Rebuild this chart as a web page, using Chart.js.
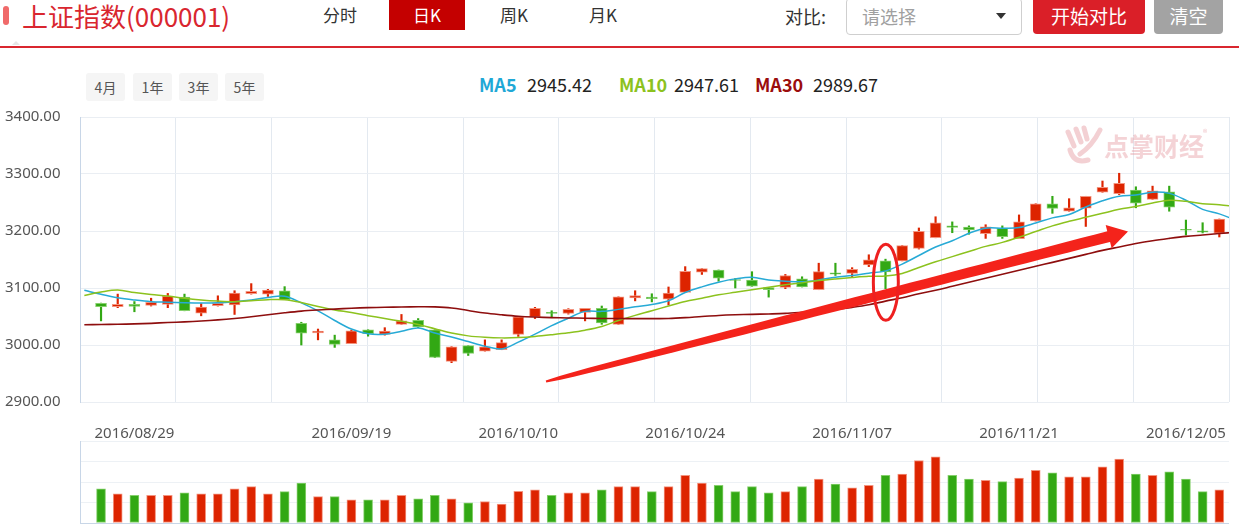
<!DOCTYPE html>
<html><head><meta charset="utf-8">
<script src="https://cdn.jsdelivr.net/npm/chart.js@4.4.0/dist/chart.umd.min.js"></script>
<style>
html,body{margin:0;padding:0;background:#fff;}
body{width:1239px;height:528px;position:relative;overflow:hidden;font-family:"Noto Sans CJK SC","Noto Sans",sans-serif;}
.a{position:absolute;white-space:nowrap;}
.tab{top:0;height:30px;line-height:30px;font-size:17px;color:#333;}
.rng{top:73px;width:39px;height:28px;line-height:28px;background:#f5f5f5;border-radius:3px;text-align:center;font-size:14px;color:#555;}
.mal{top:70px;line-height:28px;font-size:18px;font-weight:bold;}
.mav{top:70px;line-height:28px;font-size:18px;color:#222;}
canvas{position:absolute;left:0;}
</style></head><body>
<div class="a" style="left:3px;top:6px;width:6px;height:19px;background:#f06a6a;border-radius:3px;"></div>
<div class="a" style="left:22px;top:0;height:32px;line-height:32px;font-size:26px;color:#d9262f;">上证指数(000001)</div>
<div class="a tab" style="left:323px;">分时</div>
<div class="a tab" style="left:389px;width:76px;background:#c40000;color:#fff;text-align:center;">日K</div>
<div class="a tab" style="left:500px;">周K</div>
<div class="a tab" style="left:589px;">月K</div>
<div class="a" style="left:785px;top:0;height:32px;line-height:32px;font-size:18px;color:#333;">对比:</div>
<div class="a" style="left:846px;top:-2px;width:174px;height:35px;border:1px solid #cfcfcf;border-radius:4px;"></div>
<div class="a" style="left:862px;top:0;height:32px;line-height:32px;font-size:18px;color:#a0a0a0;">请选择</div>
<div class="a" style="left:996px;top:13px;width:0;height:0;border-left:5px solid transparent;border-right:5px solid transparent;border-top:6px solid #333;"></div>
<div class="a" style="left:1033px;top:-4px;width:112px;height:38px;background:#da1f28;border-radius:4px;color:#fff;font-size:19px;line-height:40px;text-align:center;">开始对比</div>
<div class="a" style="left:1154px;top:-4px;width:69px;height:38px;background:#a3a3a3;border-radius:4px;color:#fff;font-size:19px;line-height:40px;text-align:center;">清空</div>
<div class="a" style="left:0;top:46px;width:1239px;height:2px;background:#d9262f;"></div>
<div class="a" style="left:12px;top:41px;width:0;height:0;border-left:4px solid transparent;border-right:4px solid transparent;border-bottom:4px solid #e6e6e6;"></div>

<div class="a rng" style="left:86px;">4月</div>
<div class="a rng" style="left:133px;">1年</div>
<div class="a rng" style="left:179px;">3年</div>
<div class="a rng" style="left:225px;">5年</div>

<div class="a mal" style="left:479px;color:#1fa8d6;">MA5</div>
<div class="a mav" style="left:527px;">2945.42</div>
<div class="a mal" style="left:619px;color:#8cc21e;">MA10</div>
<div class="a mav" style="left:674px;">2947.61</div>
<div class="a mal" style="left:755px;color:#9b0d0d;">MA30</div>
<div class="a mav" style="left:813px;">2989.67</div>

<canvas id="k" width="1239" height="315" style="top:100px;"></canvas>
<canvas id="v" width="1239" height="108" style="top:420px;"></canvas>

<svg class="a" style="left:1062px;top:124px;" width="44" height="44" viewBox="0 0 44 44">
<g fill="none" stroke="rgba(228,150,158,0.45)" stroke-width="5" stroke-linecap="round">
<path d="M6 8 L12 22"/><path d="M14 5 L19 18"/><path d="M22 4 L25 15"/><path d="M38 6 Q30 22 18 30"/>
<path d="M8 26 Q12 40 26 36"/></g></svg>
<div class="a" style="left:1104px;top:130px;font-size:25px;font-weight:bold;color:rgba(228,150,158,0.42);line-height:30px;">点掌财经</div>
<div class="a" style="left:1203px;top:126px;font-size:9px;color:rgba(228,150,158,0.6);">®</div>

<script>
// ---------- data ----------
const dates = ['2016/08/25','2016/08/26','2016/08/29','2016/08/30','2016/08/31','2016/09/01','2016/09/02',
'2016/09/05','2016/09/06','2016/09/07','2016/09/08','2016/09/09','2016/09/12','2016/09/13','2016/09/14',
'2016/09/19','2016/09/20','2016/09/21','2016/09/22','2016/09/23','2016/09/26','2016/09/27','2016/09/28','2016/09/29','2016/09/30',
'2016/10/10','2016/10/11','2016/10/12','2016/10/13','2016/10/14','2016/10/17','2016/10/18','2016/10/19','2016/10/20','2016/10/21',
'2016/10/24','2016/10/25','2016/10/26','2016/10/27','2016/10/28','2016/10/31','2016/11/01','2016/11/02','2016/11/03','2016/11/04',
'2016/11/07','2016/11/08','2016/11/09','2016/11/10','2016/11/11','2016/11/14','2016/11/15','2016/11/16','2016/11/17','2016/11/18',
'2016/11/21','2016/11/22','2016/11/23','2016/11/24','2016/11/25','2016/11/28','2016/11/29','2016/11/30','2016/12/01','2016/12/02',
'2016/12/05','2016/12/06','2016/12/07'];
const tickDates = ['2016/08/29','2016/09/19','2016/10/10','2016/10/24','2016/11/07','2016/11/21','2016/12/05'];
const yTicks = [2900,3000,3100,3200,3300,3400];

const opens = [3073.2,3067.2,3071.4,3069.6,3071.4,3083.9,3055.9,3069.0,3070.2,3089.9,3089.3,3095.2,3038.1,3021.4,3009.0,
3002.4,3026.8,3018.5,3036.3,3043.4,3026.8,2971.4,2998.8,2989.3,2991.7,3018.5,3049.4,3057.2,3055.3,3057.2,
3064.3,3036.3,3082.7,3083.9,3080.3,3092.3,3127.9,3131.6,3114.9,3113.7,3100.6,3101.2,3116.1,3097.0,3126.8,
3125.6,3140.5,3147.6,3147.6,3169.6,3188.1,3209.0,3206.7,3195.4,3205.0,3186.5,3217.5,3247.8,3234.7,3240.0,
3268.0,3265.6,3271.6,3255.5,3268.6,3203.0,3200.2,3196.0];
const closes = [3067.2,3071.4,3067.8,3075.0,3085.7,3060.1,3066.6,3073.2,3091.1,3094.0,3096.4,3079.7,3020.8,3024.4,3001.2,
3025.0,3019.7,3024.4,3042.3,3031.6,2978.0,2997.0,2985.1,2997.0,3004.2,3049.4,3064.3,3055.3,3062.5,3064.3,
3038.7,3084.5,3086.9,3081.5,3091.1,3129.2,3133.9,3117.3,3113.1,3103.0,3097.0,3122.0,3101.8,3128.6,3124.4,
3132.8,3149.4,3128.0,3174.4,3199.4,3214.3,3206.5,3202.0,3207.3,3190.0,3216.3,3247.8,3239.5,3240.7,3260.9,
3276.4,3283.5,3249.0,3270.4,3241.8,3201.4,3197.8,3221.0];
const highs = [3073.5,3089.3,3076.2,3082.1,3090.5,3089.3,3072.6,3086.3,3095.2,3107.7,3097.6,3102.4,3039.9,3028.0,3017.3,
3026.2,3026.8,3030.4,3053.6,3046.4,3026.8,2997.0,2998.8,3009.0,3009.0,3049.4,3066.1,3060.1,3063.7,3064.3,
3068.4,3084.5,3095.2,3089.9,3101.8,3137.5,3133.9,3131.6,3116.7,3128.6,3100.6,3123.8,3119.7,3143.5,3143.5,
3135.7,3158.3,3150.6,3174.4,3205.3,3225.0,3216.0,3209.0,3211.0,3209.0,3228.2,3247.8,3260.9,3256.7,3260.9,
3287.7,3301.3,3277.6,3278.7,3278.7,3219.2,3214.5,3221.0];
const lows = [3042.3,3065.5,3058.3,3068.4,3065.5,3060.0,3051.2,3068.4,3053.6,3089.3,3085.1,3079.7,3000.0,3009.0,2995.8,
3002.4,3015.5,3017.3,3036.3,3030.4,2978.0,2969.0,2981.6,2989.3,2991.7,3015.0,3046.4,3048.2,3054.2,3042.3,
3036.3,3036.3,3077.4,3075.6,3070.2,3092.3,3123.8,3111.9,3100.0,3103.0,3084.0,3098.8,3101.8,3097.0,3122.0,
3119.7,3137.5,3098.8,3147.6,3168.4,3188.1,3197.0,3194.3,3187.0,3187.0,3186.5,3217.5,3231.0,3234.7,3208.0,
3268.0,3263.9,3240.7,3255.5,3234.7,3193.0,3196.6,3189.5];
const volumes = [1661,1419,1355,1355,1355,1468,1419,1419,1661,1774,1419,1532,1952,1290,1290,
1129,1129,1129,1355,1177,1355,1177,984,1048,919,1548,1613,1355,1468,1468,
1613,1774,1774,1532,1774,2323,1952,1839,1532,1774,1468,1532,1774,2145,1903,
1710,1839,2323,2387,3048,3226,2323,2145,2081,2016,2194,2565,2452,2258,2258,
2742,3113,2387,2323,2500,2145,1532,1613];
// moving averages, one point per trading day from the day before the first candle (x=-1) to the day after the last (x=68)
const ma5 = [3096,3089,3083,3079,3076,3075,3074,3073.5,3074,3076,3079,3083.5,3085.7,3074,3060,3043,3028,3019.7,3019,3024,
3030,3021,3014,3006,2998,2993,3005,3019,3034,3047,3059,3059,3062.5,3067,3071,3077.5,3092,3102,3110,3116,
3119,3114,3112,3111,3114,3119,3122,3126,3130,3142,3157,3172,3183,3196,3205,3205,3206,3214,3223,3229,
3242,3253,3261,3263,3268,3266,3254,3238,3230,3219];
const ma10 = [3087,3093,3096.5,3092,3088.5,3086,3082,3079,3077,3076,3077.5,3079.5,3079.5,3074.5,3067.5,3061.5,3057,3051.5,3046.5,3041.5,
3036,3028.5,3021,3016,3013.5,3012.5,3013,3015,3018,3021.5,3026,3032.5,3043,3052,3060,3068.5,3076.5,3082,3088,3092.5,
3097,3101.5,3105.5,3109,3113,3116,3118.5,3120.5,3121,3125.5,3136,3146,3155,3164,3173,3180,3189,3199,3209,3217,
3224,3231,3238,3243,3249,3254,3252,3248,3246,3243];
const ma30 = [3035.5,3036,3036.3,3037,3038,3039.5,3040.5,3042,3044,3046.5,3049.5,3053,3056.5,3059.5,3061.5,3063,3064.5,3065.5,3066.2,3066.7,
3067,3066.8,3065,3060.5,3056,3053,3050.5,3049,3048,3047.5,3047,3046.6,3046.4,3046.3,3046.3,3046.6,3048,3050,3051.8,3053,
3053.8,3054.5,3055.5,3057.5,3059.8,3062.5,3066,3070.5,3077,3083,3090,3096,3103,3110,3117,3124,3131,3138,3145,3152,
3159,3166,3172,3178,3183,3187,3190.5,3193,3195.5,3198];

// ---------- styles ----------
const RED='#dd2400', GREEN='#32a814', RED_EDGE='#f3947f', GREEN_EDGE='#86d06c';
const C5='#27aad6', C10='#8cc21e', C30='#8e0e0e';
const XMIN=-1.26, XMAX=67.58;
const FONT='"Noto Sans", "Noto Sans CJK SC", sans-serif';
const up = closes.map((c,i)=>c>=opens[i]);
const fill = up.map(u=>u?RED:GREEN);
const edge = up.map(u=>u?RED_EDGE:GREEN_EDGE);

// annotation placement in data units (arrow and ring drawn by the author on the chart)
const arrowFrom=[26.66,2936], arrowTo=[61.53,3199], ringAt=[47.02,3110];

const annot = {
  id:'annot',
  afterDatasetsDraw(chart){
    const {ctx, scales:{x,y}} = chart;
    const x0=x.getPixelForValue(arrowFrom[0]), y0=y.getPixelForValue(arrowFrom[1]);
    const x1=x.getPixelForValue(arrowTo[0]), y1=y.getPixelForValue(arrowTo[1]);
    const dx=x1-x0, dy=y1-y0, L=Math.hypot(dx,dy), ux=dx/L, uy=dy/L, nx=-uy, ny=ux;
    const HL=20, HW=12, bodyL=L-HL+2;
    ctx.save();
    ctx.fillStyle='#f4231b';
    ctx.beginPath();
    const N=40, left=[], right=[];
    for(let k=0;k<=N;k++){const t=k/N; const w=(2+9*Math.pow(t,0.4))/2; const px=x0+ux*bodyL*t, py=y0+uy*bodyL*t;
      left.push([px+nx*w,py+ny*w]); right.push([px-nx*w,py-ny*w]);}
    ctx.moveTo(left[0][0],left[0][1]);
    left.forEach(p=>ctx.lineTo(p[0],p[1]));
    right.reverse().forEach(p=>ctx.lineTo(p[0],p[1]));
    ctx.closePath(); ctx.fill();
    const bx=x1-ux*HL, by=y1-uy*HL;
    ctx.beginPath(); ctx.moveTo(bx+nx*HW,by+ny*HW); ctx.lineTo(x1,y1); ctx.lineTo(bx-nx*HW,by-ny*HW); ctx.closePath(); ctx.fill();
    const cx=x.getPixelForValue(ringAt[0]), cy=y.getPixelForValue(ringAt[1]);
    ctx.strokeStyle='#ee2020'; ctx.lineWidth=3;
    ctx.beginPath(); ctx.ellipse(cx,cy,12.5,38,0,0,Math.PI*2); ctx.stroke();
    ctx.restore();
  }
};

// move the plot area to the wanted place inside its canvas
function fitArea(chart, t){
  const a=chart.chartArea, p=chart.config.options.layout.padding;
  const dt=t.top-a.top, db=a.bottom-t.bottom, dr=a.right-t.right;
  if(Math.abs(dt)+Math.abs(db)+Math.abs(dr) < 0.5) return;
  p.top += dt; p.bottom += db; p.right += dr;
  chart.update();
}

const kChart = new Chart(document.getElementById('k'), {
  type:'bar',
  data:{datasets:[
    {data:opens.map((o,i)=>({x:i,y:[lows[i],highs[i]]})), backgroundColor:fill, barThickness:1.5, grouped:false, order:3},
    {data:opens.map((o,i)=>({x:i,y:[o,closes[i]]})), backgroundColor:fill, borderColor:edge, borderWidth:1, borderSkipped:false, barThickness:11, grouped:false, order:2},
    {type:'line', data:ma30.map((v,k)=>({x:k-1,y:v})), borderColor:C30, borderWidth:1.6, pointRadius:0, tension:0.35, order:1},
    {type:'line', data:ma10.map((v,k)=>({x:k-1,y:v})), borderColor:C10, borderWidth:1.5, pointRadius:0, tension:0.35, order:1},
    {type:'line', data:ma5.map((v,k)=>({x:k-1,y:v})), borderColor:C5, borderWidth:1.5, pointRadius:0, tension:0.35, order:1}
  ]},
  options:{
    responsive:false, animation:false, devicePixelRatio:1,
    layout:{padding:{top:17,right:10,bottom:13,left:5}},
    plugins:{legend:{display:false}, tooltip:{enabled:false}},
    scales:{
      x:{type:'linear', min:XMIN, max:XMAX, offset:false,
         afterBuildTicks:s=>{const t=[];for(let k=0;k<=12;k++)t.push({value:XMIN+k*(XMAX-XMIN)/12});s.ticks=t;},
         ticks:{display:false, padding:0}, grid:{color:'#e3e9f0', drawTicks:false, offset:false}, border:{display:false},
         afterFit:s=>{s.height=0;}},
      y:{min:2900, max:3400,
         afterBuildTicks:s=>{s.ticks=yTicks.map(v=>({value:v}));},
         ticks:{callback:v=>Number(v).toFixed(2), color:'#555', font:{family:FONT,size:15}, padding:0, crossAlign:'far'},
         grid:{color:'#eaeef3', drawTicks:false}, border:{color:'#c8d6e7'},
         afterFit:s=>{s.width=75;}}
    }
  },
  plugins:[annot]
});
fitArea(kChart,{top:17,bottom:302,right:1229});

const vChart = new Chart(document.getElementById('v'), {
  type:'bar',
  data:{datasets:[
    {data:volumes.map((v,i)=>({x:i,y:v})), backgroundColor:fill, borderColor:edge, borderWidth:1, borderSkipped:false, barThickness:9, grouped:false}
  ]},
  options:{
    responsive:false, animation:false, devicePixelRatio:1,
    layout:{padding:{top:0,right:10,bottom:5,left:0}},
    plugins:{legend:{display:false}, tooltip:{enabled:false}},
    scales:{
      x:{type:'linear', position:'top', min:XMIN, max:XMAX, offset:false,
         afterBuildTicks:s=>{s.ticks=tickDates.map(d=>({value:dates.indexOf(d)}));},
         ticks:{callback:v=>dates[Math.round(v)], color:'#555', font:{family:FONT,size:15}, padding:-2, maxRotation:0, autoSkip:false},
         grid:{display:false, drawTicks:false, offset:false}, border:{display:false},
         afterFit:s=>{s.height=21;}},
      y:{min:0, max:4000, ticks:{display:false, stepSize:1000},
         grid:{color:c=>c.tick && c.tick.value===0?'#c8d6e7':'#edf1f5', drawTicks:false}, border:{color:'#c8d6e7'},
         afterFit:s=>{s.width=80;}}
    }
  }
});
fitArea(vChart,{top:21,bottom:103,right:1229});
</script>
</body></html>
